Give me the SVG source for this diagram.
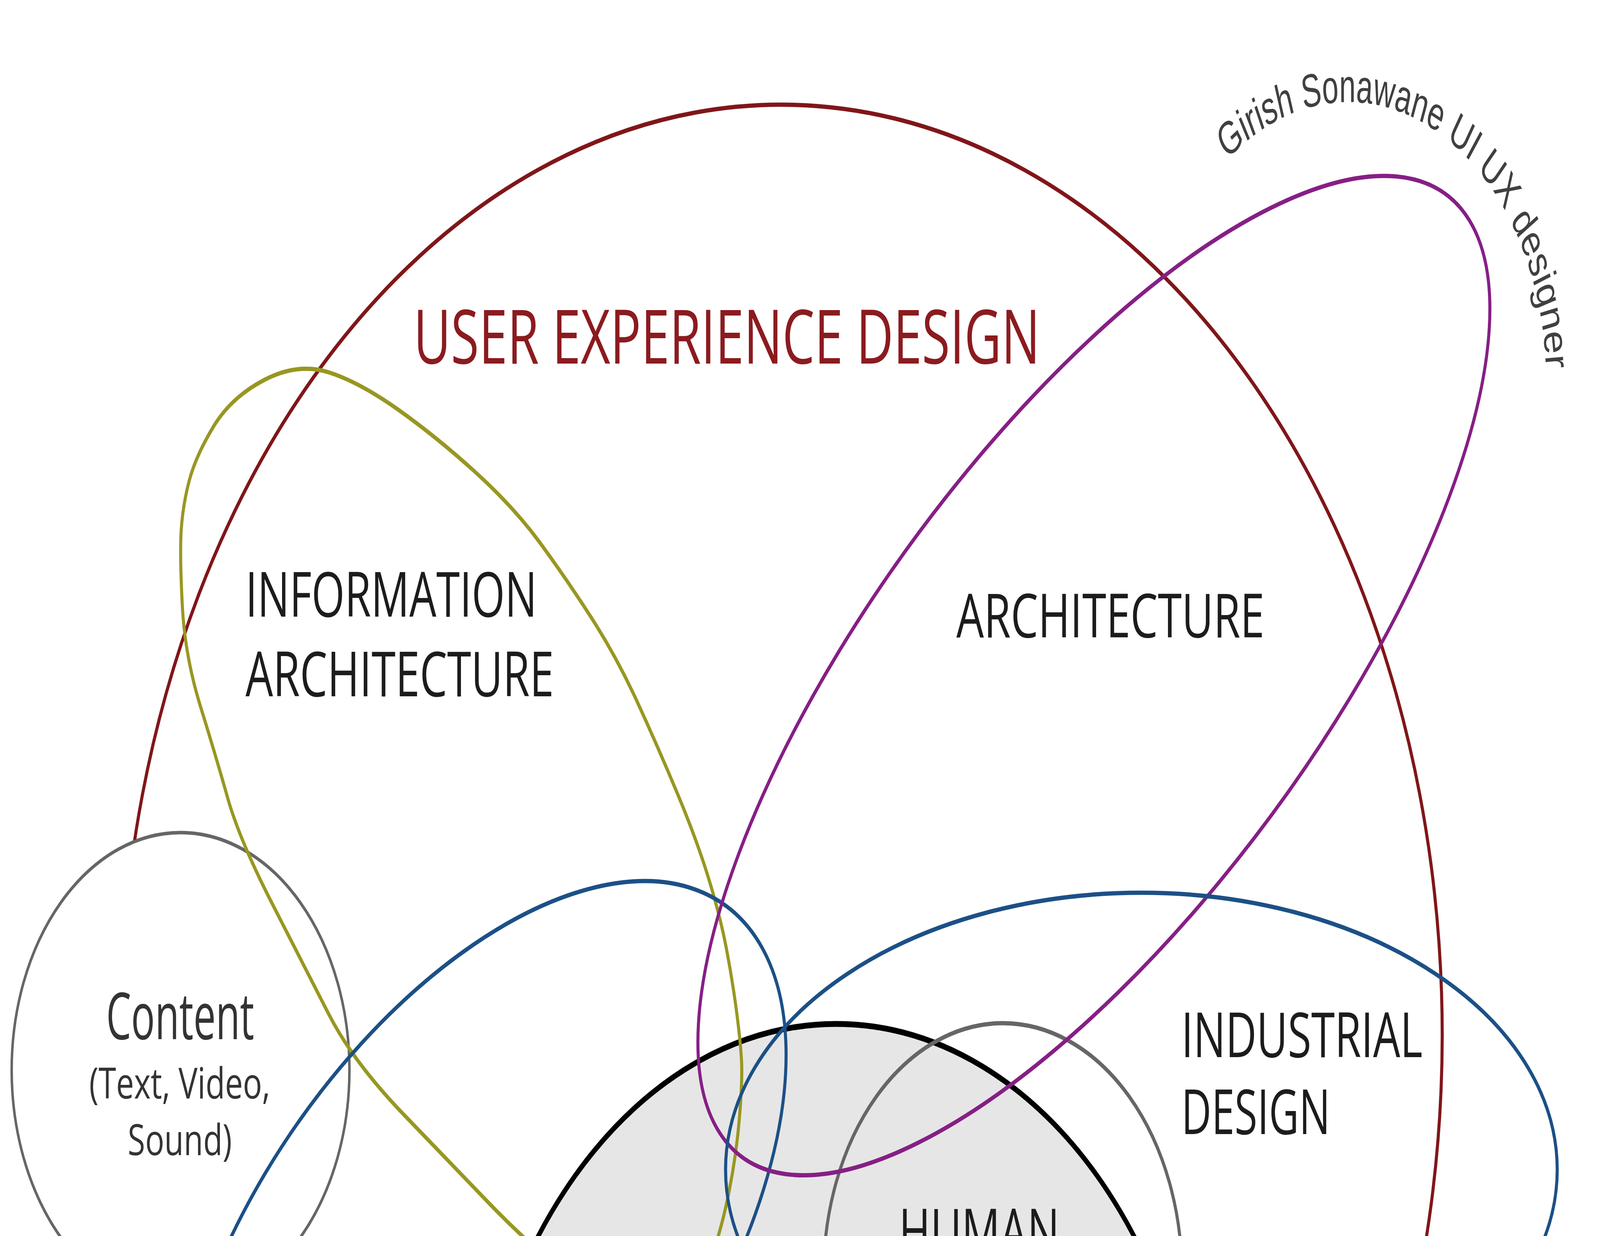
<svg xmlns="http://www.w3.org/2000/svg" width="5760" height="3165" viewBox="0 0 5760 3165" preserveAspectRatio="none">
<defs>
<style>
svg{width:100vw;height:100vh}
.ring{fill:none;stroke-width:11}
.lbl{font-family:"Open Sans","Noto Sans","DejaVu Sans",sans-serif;fill:#1c1c1c}
.red{stroke:#801619}
.olive{stroke:#989722}
.purple{stroke:#861f85}
.blue{stroke:#1c5086}
.gray{stroke:#666666}
</style>
<path id="wmArc" d="M4417,410 A713,713 0 0 1 5555,1098"/>
</defs>
<rect x="0" y="0" width="5760" height="3165" fill="#ffffff"/>

<g id="user-experience-design">
<ellipse class="ring red" cx="2812" cy="2650" rx="2380" ry="2382"/>
<text class="lbl" x="1489" y="931" font-size="192" style="fill:#8b1b1f" textLength="2255" lengthAdjust="spacingAndGlyphs">USER EXPERIENCE DESIGN</text>
</g>

<g id="content">
<circle cx="650" cy="2740" r="608" fill="#ffffff" stroke="#666666" stroke-width="9"/>
<text class="lbl" x="382" y="2661" font-size="166" style="fill:#333333" textLength="533" lengthAdjust="spacingAndGlyphs">Content</text>
<text class="lbl" x="321" y="2813" font-size="110" style="fill:#333333" textLength="652" lengthAdjust="spacingAndGlyphs">(Text, Video,</text>
<text class="lbl" x="460" y="2958" font-size="110" style="fill:#333333" textLength="375" lengthAdjust="spacingAndGlyphs">Sound)</text>
</g>

<g id="human-computer-interaction">
<circle cx="3010" cy="3952" r="1330" fill="#e6e6e6" stroke="#000000" stroke-width="15"/>
<text class="lbl" x="3236" y="3212" font-size="163" textLength="578" lengthAdjust="spacingAndGlyphs">HUMAN</text>
</g>

<g id="human-factors">
<circle class="ring gray" cx="3610" cy="3265" r="645" stroke-width="9"/>
</g>

<g id="information-architecture">
<path class="ring olive" d="M952.5,972.5 Q1073,928 1184,953.5 Q1295,979 1433.5,1049 Q1572,1119 1710.5,1208.5 Q1849,1298 1941.5,1387.5 Q2034,1477 2126.5,1579 Q2219,1681 2293,1795.5 Q2367,1910 2437.5,2030 Q2508,2150 2550,2247 Q2592,2344 2614,2425 Q2636,2506 2651,2587 Q2666,2668 2669.5,2716.5 Q2673,2765 2662,2862 Q2651,2959 2621.5,3062 Q2592,3165 2546,3247.5 Q2500,3330 2420,3370 Q2340,3410 2235,3365 Q2130,3320 2002,3242.5 Q1874,3165 1756.5,3078 Q1639,2991 1455.5,2855.5 Q1272,2720 1183.5,2597 Q1095,2474 978.5,2312 Q862,2150 819.5,2043 Q777,1936 721.5,1808.5 Q666,1681 656.5,1553 Q647,1425 652,1361.5 Q657,1298 680,1234 Q703,1170 767.5,1093.5 Q832,1017 952.5,972.5 Z"/>
<text class="lbl" x="884" y="1579" font-size="160" textLength="1049" lengthAdjust="spacingAndGlyphs">INFORMATION</text>
<text class="lbl" x="884" y="1783" font-size="160" textLength="1110" lengthAdjust="spacingAndGlyphs">ARCHITECTURE</text>
</g>

<g id="interaction-design">
<ellipse class="ring blue" cx="1727" cy="3221" rx="1290" ry="695" transform="rotate(-38 1727 3221)"/>
</g>

<g id="architecture">
<ellipse class="ring purple" cx="3938" cy="1730" rx="1785" ry="695" transform="rotate(-40.8 3938 1730)"/>
<text class="lbl" x="3443" y="1632" font-size="155" textLength="1109" lengthAdjust="spacingAndGlyphs">ARCHITECTURE</text>
</g>

<g id="industrial-design">
<ellipse class="ring blue" cx="4109" cy="2995" rx="1497" ry="709"/>
<text class="lbl" x="4253" y="2707" font-size="160" textLength="868" lengthAdjust="spacingAndGlyphs">INDUSTRIAL</text>
<text class="lbl" x="4253" y="2904" font-size="160" textLength="536" lengthAdjust="spacingAndGlyphs">DESIGN</text>
</g>

<g id="watermark">
<text font-family="Liberation Sans, Arial, sans-serif" font-size="120" fill="#404040"><textPath href="#wmArc" textLength="1560" lengthAdjust="spacingAndGlyphs">Girish Sonawane UI UX designer</textPath></text>
</g>
</svg>
